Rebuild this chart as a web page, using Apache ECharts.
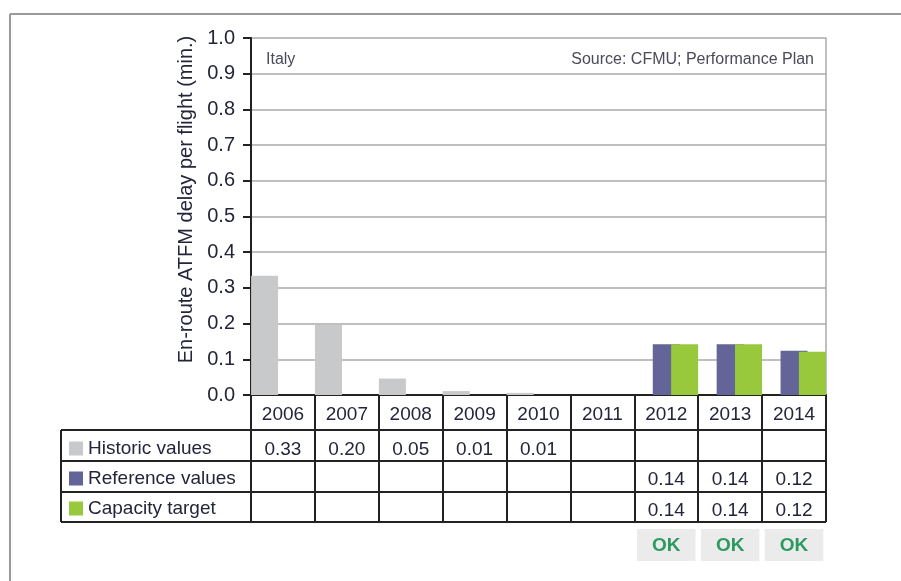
<!DOCTYPE html>
<html>
<head>
<meta charset="utf-8">
<script src="https://cdn.jsdelivr.net/npm/echarts@6/dist/echarts.min.js"></script>
<style>
  html, body { margin: 0; padding: 0; background: #fff; }
  #chart-container { width: 901px; height: 581px; }
</style>
</head>
<body>
<div id="chart-container"></div>
<script>
// values
var years = ['2006', '2007', '2008', '2009', '2010', '2011', '2012', '2013', '2014'];
var historic = [0.334, 0.196, 0.046, 0.011, 0.006, null, null, null, null];
var reference = [null, null, null, null, null, null, 0.142, 0.142, 0.124];
var target = [null, null, null, null, null, null, 0.142, 0.142, 0.121];
var okFlags = ['', '', '', '', '', '', 'OK', 'OK', 'OK'];

var FONT = 'Liberation Sans, Arial, sans-serif';
var TEXT = '#23253a';
var LINE = '#222';

var dom = document.getElementById('chart-container');
var myChart = echarts.init(dom, null, {
  renderer: 'canvas',
  useDirtyRect: false,
});

// one row of the data table under the chart, drawn as labels of an extra x axis
function tableRow(values, margin) {
  return {
    type: 'category',
    data: years,
    position: 'bottom',
    axisLine: { show: false },
    axisTick: { show: false },
    axisLabel: {
      interval: 0,
      margin: margin,
      fontFamily: FONT,
      fontSize: 19,
      color: TEXT,
      formatter: function (v, i) {
        return values[i] == null ? '' : values[i].toFixed(2);
      },
    },
  };
}

// table frame (rows go left past the plot, under the legend)
var tableLeft = 61, tableRight = 826;
var rowLines = [430, 461, 492, 522];
var graphics = [
  { type: 'line', shape: { x1: 10, y1: 14, x2: 901, y2: 14 }, style: { stroke: '#9a9a9a', lineWidth: 2 } },
  { type: 'line', shape: { x1: 10, y1: 14, x2: 10, y2: 581 }, style: { stroke: '#9a9a9a', lineWidth: 2 } },
  { type: 'line', shape: { x1: tableLeft, y1: rowLines[0], x2: tableLeft, y2: rowLines[3] }, style: { stroke: LINE, lineWidth: 2 } },
];
rowLines.forEach(function (y) {
  graphics.push({ type: 'line', shape: { x1: tableLeft, y1: y, x2: tableRight, y2: y }, style: { stroke: LINE, lineWidth: 2 } });
});

var option = {
  animation: false,
  title: [
    {
      text: 'Italy',
      left: 261,
      top: 47,
      textStyle: { fontFamily: FONT, fontSize: 16, fontWeight: 'normal', color: '#4a4a5a' },
    },
    {
      text: 'Source: CFMU; Performance Plan',
      right: 82,
      top: 47,
      textStyle: { fontFamily: FONT, fontSize: 16, fontWeight: 'normal', color: '#4a4a5a' },
    },
  ],
  legend: {
    orient: 'vertical',
    left: 64,
    top: 434,
    itemWidth: 14,
    itemHeight: 14,
    itemGap: 11,
    icon: 'rect',
    textStyle: { fontFamily: FONT, fontSize: 19, color: TEXT },
    data: ['Historic values', 'Reference values', 'Capacity target'],
  },
  grid: {
    left: 251,
    right: 75,
    top: 38,
    bottom: 186,
  },
  xAxis: [
    {
      type: 'category',
      data: years,
      position: 'bottom',
      axisLine: { show: true, lineStyle: { color: LINE, width: 2 } },
      axisTick: { show: true, interval: 0, length: 127, lineStyle: { color: LINE, width: 2 } },
      axisLabel: { interval: 0, margin: 10, fontFamily: FONT, fontSize: 19, color: TEXT },
    },
    tableRow(historic, 45),
    tableRow(reference, 75),
    tableRow(target, 106),
    {
      type: 'category',
      data: years,
      position: 'bottom',
      axisLine: { show: false },
      axisTick: { show: false },
      axisLabel: {
        interval: 0,
        margin: 134,
        formatter: function (v, i) {
          return okFlags[i] ? '{ok|' + okFlags[i] + '}' : '';
        },
        rich: {
          ok: {
            backgroundColor: '#ebebeb',
            color: '#2a9a60',
            fontFamily: FONT,
            fontWeight: 'bold',
            fontSize: 19,
            padding: [7, 15, 6, 15],
          },
        },
      },
    },
  ],
  yAxis: [
    {
      type: 'value',
      min: 0,
      max: 1,
      interval: 0.1,
      name: 'En-route ATFM delay per flight (min.)',
      nameLocation: 'middle',
      nameGap: 53,
      nameTextStyle: { fontFamily: FONT, fontSize: 20, color: TEXT, padding: [0, 0, 0, 34] },
      axisLine: { show: true, lineStyle: { color: LINE, width: 2 } },
      axisTick: { show: true, length: 8, lineStyle: { color: LINE, width: 2 } },
      axisLabel: {
        margin: 16,
        fontFamily: FONT,
        fontSize: 20,
        color: TEXT,
        formatter: function (v) { return v.toFixed(1); },
      },
      splitLine: { show: true, lineStyle: { color: '#aaaaaa', width: 1.5 } },
    },
    {
      type: 'value',
      min: 0,
      max: 1,
      position: 'right',
      axisLine: { show: true, lineStyle: { color: '#aaaaaa', width: 1.5 } },
      axisTick: { show: false },
      axisLabel: { show: false },
      splitLine: { show: false },
    },
  ],
  series: [
    {
      name: 'Historic values',
      type: 'bar',
      data: historic,
      barWidth: 27,
      barGap: '-32%',
      barCategoryGap: 0,
      itemStyle: { color: '#c8c9cb' },
    },
    {
      name: 'Reference values',
      type: 'bar',
      data: reference,
      barWidth: 27,
      barGap: '-32%',
      itemStyle: { color: '#636497' },
    },
    {
      name: 'Capacity target',
      type: 'bar',
      data: target,
      barWidth: 27,
      barGap: '-32%',
      itemStyle: { color: '#98c83c' },
    },
  ],
  graphic: graphics,
};

if (option && typeof option === 'object') {
  myChart.setOption(option);
}

window.addEventListener('resize', myChart.resize);
</script>
</body>
</html>
